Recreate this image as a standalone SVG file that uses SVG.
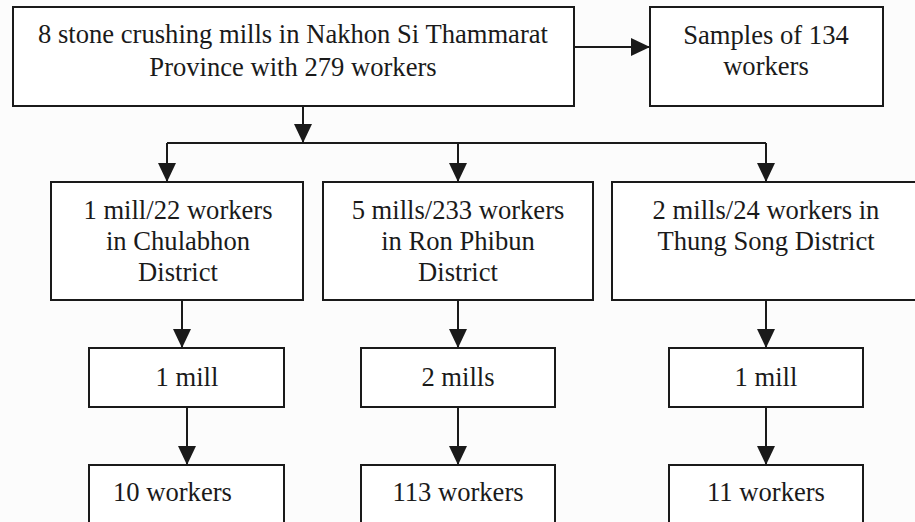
<svg xmlns="http://www.w3.org/2000/svg" width="915" height="522" viewBox="0 0 915 522">
<style>
.box{fill:#fff;stroke:#1a1a1a;stroke-width:2}
.t{font-family:'Liberation Serif','Times New Roman','DejaVu Serif',serif;font-size:26.6px;fill:#1a1a1a;text-anchor:middle}
.c{fill:none;stroke:#1a1a1a;stroke-width:2}
</style>
<defs>
<marker id="ah" markerUnits="userSpaceOnUse" markerWidth="20" markerHeight="20" viewBox="0 0 20 20" refX="19" refY="10" orient="auto">
<path d="M0,1 L19,10 L0,19 Z" fill="#1a1a1a"/>
</marker>
</defs>
<rect x="0" y="0" width="915" height="522" fill="#fcfcfc"/>
<g id="connectors">
<path class="c" d="M574,47 H650" marker-end="url(#ah)"/>
<path class="c" d="M303,106 V143" marker-end="url(#ah)"/>
<path class="c" d="M167,143 H766"/>
<path class="c" d="M167,143 V182" marker-end="url(#ah)"/>
<path class="c" d="M458,143 V182" marker-end="url(#ah)"/>
<path class="c" d="M766,143 V182" marker-end="url(#ah)"/>
<path class="c" d="M182,300 V348" marker-end="url(#ah)"/>
<path class="c" d="M458,300 V348" marker-end="url(#ah)"/>
<path class="c" d="M766,300 V348" marker-end="url(#ah)"/>
<path class="c" d="M187,407 V465" marker-end="url(#ah)"/>
<path class="c" d="M458,407 V465" marker-end="url(#ah)"/>
<path class="c" d="M766,407 V465" marker-end="url(#ah)"/>
</g>
<g id="n_top">
<rect class="box" x="13" y="7" width="561" height="99"/>
<text class="t" x="293" y="43">8 stone crushing mills in Nakhon Si Thammarat</text>
<text class="t" x="293" y="76">Province with 279 workers</text>
</g>
<g id="n_samples">
<rect class="box" x="650" y="7" width="233" height="99"/>
<text class="t" x="766" y="44">Samples of 134</text>
<text class="t" x="766" y="75">workers</text>
</g>
<g id="n_chulabhon">
<rect class="box" x="51" y="182" width="252" height="118"/>
<text class="t" x="178" y="219">1 mill/22 workers</text>
<text class="t" x="178" y="250">in Chulabhon</text>
<text class="t" x="178" y="281">District</text>
</g>
<g id="n_ronphibun">
<rect class="box" x="323" y="182" width="270" height="118"/>
<text class="t" x="458" y="219">5 mills/233 workers</text>
<text class="t" x="458" y="250">in Ron Phibun</text>
<text class="t" x="458" y="281">District</text>
</g>
<g id="n_thungsong">
<rect class="box" x="612" y="182" width="310" height="118"/>
<text class="t" x="766" y="219">2 mills/24 workers in</text>
<text class="t" x="766" y="250">Thung Song District</text>
</g>
<g id="n_mill1">
<rect class="box" x="89" y="348" width="195" height="59"/>
<text class="t" x="187" y="386">1 mill</text>
</g>
<g id="n_mill2">
<rect class="box" x="361" y="348" width="194" height="59"/>
<text class="t" x="458" y="386">2 mills</text>
</g>
<g id="n_mill3">
<rect class="box" x="669" y="348" width="194" height="59"/>
<text class="t" x="766" y="386">1 mill</text>
</g>
<g id="n_w1">
<rect class="box" x="89" y="465" width="195" height="70"/>
<text class="t" x="113" y="501" style="text-anchor:start">10 workers</text>
</g>
<g id="n_w2">
<rect class="box" x="361" y="465" width="194" height="70"/>
<text class="t" x="458" y="501">113 workers</text>
</g>
<g id="n_w3">
<rect class="box" x="669" y="465" width="194" height="70"/>
<text class="t" x="766" y="501">11 workers</text>
</g>
</svg>
